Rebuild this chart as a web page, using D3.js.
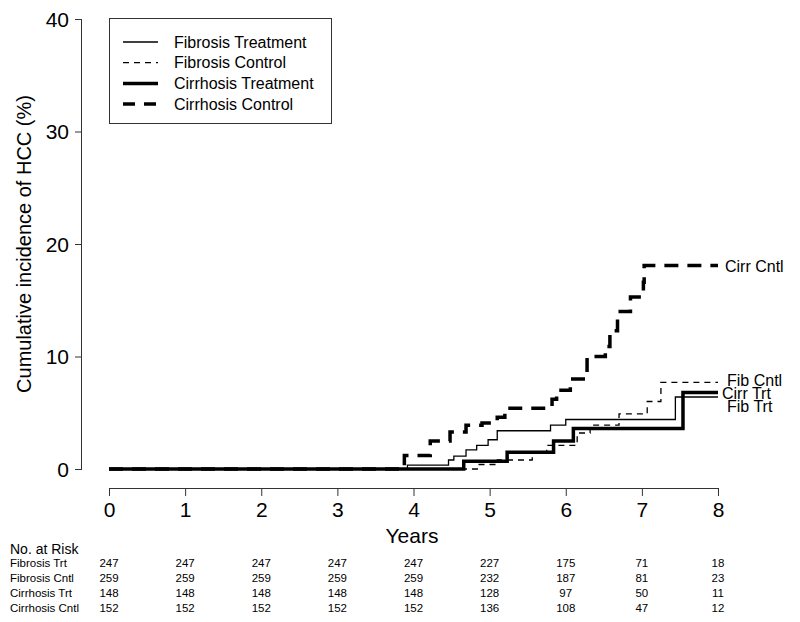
<!DOCTYPE html>
<html><head><meta charset="utf-8">
<script src="https://cdn.jsdelivr.net/npm/d3@7"></script>
<style>body{margin:0;background:#fff}svg{display:block;font-family:"Liberation Sans",Arial,sans-serif}</style>
</head><body><svg id="c" width="800" height="622"></svg>
<script>
const seriesNames = ["Fibrosis Treatment","Fibrosis Control","Cirrhosis Treatment","Cirrhosis Control"];
const endLabels = ["Fib Trt","Fib Cntl","Cirr Trt","Cirr Cntl"];
const fibTrtT = [0,3.92,4.46,4.53,4.69,4.83,4.98,5.1,5.8,6.0,7.44,8];
const fibTrtV = [0,0.35,0.8,1.15,1.7,2.1,2.6,3.4,3.9,4.4,6.4,6.4];
const fibCntlT = [0,4.85,5.1,5.56,5.75,6.15,6.32,6.7,7.07,7.25,8];
const fibCntlV = [0,0.4,0.8,1.5,2.1,3.2,3.9,4.9,6.0,7.7,7.7];
const cirrTrtT = [0,4.66,5.23,5.84,6.1,7.54,8];
const cirrTrtV = [0,0.7,1.5,2.5,3.6,6.8,6.8];
const cirrCntlT = [0,3.88,4.22,4.48,4.69,4.9,5.1,5.2,5.82,5.88,6.06,6.28,6.52,6.58,6.68,6.85,7.02,7.03,8];
const cirrCntlV = [0,1.2,2.5,3.3,3.9,4.1,4.6,5.4,6.2,7.0,8.0,10.0,10.9,12.3,14.0,15.3,16.6,18.1,18.1];
const xTicks = [0,1,2,3,4,5,6,7,8];
const yTicks = [0,10,20,30,40];
const riskRows = ["Fibrosis Trt","Fibrosis Cntl","Cirrhosis Trt","Cirrhosis Cntl"];
const riskFibTrt = [247,247,247,247,247,227,175,71,18];
const riskFibCntl = [259,259,259,259,259,232,187,81,23];
const riskCirrTrt = [148,148,148,148,148,128,97,50,11];
const riskCirrCntl = [152,152,152,152,152,136,108,47,12];

const svg = d3.select("#c");
const x = d3.scaleLinear().domain([0,8]).range([109,718]);
const y = d3.scaleLinear().domain([0,40]).range([469,19]);

// axes
const xa = svg.append("g").attr("transform","translate(0,488)")
  .call(d3.axisBottom(x).tickValues(xTicks).tickSize(8).tickPadding(6).tickFormat(d3.format("d")));
const ya = svg.append("g").attr("transform","translate(82,0)")
  .call(d3.axisLeft(y).tickValues(yTicks).tickSize(7).tickPadding(6).tickFormat(d3.format("d")));
[xa,ya].forEach(a=>{
  a.selectAll("path,line").attr("stroke","#333").attr("stroke-width",1);
  a.selectAll("text").attr("font-size",21).attr("fill","#000").attr("font-family","Liberation Sans, Arial, sans-serif");
});
ya.select(".domain").attr("d","M-0.5,19.5V469.5");
ya.selectAll("text").attr("dy","0.35em");

svg.append("text").attr("x",412).attr("y",543).attr("text-anchor","middle").attr("font-size",21).text("Years");
svg.append("text").attr("transform","translate(31,244) rotate(-90)").attr("text-anchor","middle").attr("font-size",20).text("Cumulative incidence of HCC (%)");

// curves
const data = [
  {t:fibTrtT,v:fibTrtV,w:1.3,dash:null},
  {t:fibCntlT,v:fibCntlV,w:1.3,dash:"6,5"},
  {t:cirrTrtT,v:cirrTrtV,w:3.5,dash:null},
  {t:cirrCntlT,v:cirrCntlV,w:3.5,dash:"14,9"}
];
const line = d3.line().x(d=>x(d[0])).y(d=>y(d[1])).curve(d3.curveStepAfter);
data.forEach(s=>{
  svg.append("path").datum(s.t.map((t,i)=>[t,s.v[i]]))
    .attr("d",line).attr("fill","none").attr("stroke","#000")
    .attr("stroke-width",s.w).attr("stroke-dasharray",s.dash);
});

// end labels
const labelY = [406,380,393,266];
endLabels.forEach((l,i)=>{
  svg.append("text").attr("x",[727,727,722,725][i]).attr("y",labelY[i]).attr("dy","0.35em")
    .attr("font-size",16).text(l);
});

// legend
svg.append("rect").attr("x",109.5).attr("y",18.5).attr("width",222).attr("height",105)
  .attr("fill","#fff").attr("stroke","#333").attr("stroke-width",1);
seriesNames.forEach((n,i)=>{
  const yy = 42 + i*20.7;
  svg.append("line").attr("x1",123).attr("x2",158).attr("y1",yy).attr("y2",yy)
    .attr("stroke","#000").attr("stroke-width",data[i].w).attr("stroke-dasharray",data[i].dash ? (i===1?"6,5":"12,9"):null);
  svg.append("text").attr("x",174).attr("y",yy).attr("dy","0.35em").attr("font-size",16).text(n);
});

// risk table
svg.append("text").attr("x",10).attr("y",554).attr("font-size",14).text("No. at Risk");
const riskData = [riskFibTrt,riskFibCntl,riskCirrTrt,riskCirrCntl];
riskRows.forEach((r,i)=>{
  const yy = 563 + i*15;
  svg.append("text").attr("x",10).attr("y",yy).attr("dy","0.35em").attr("font-size",11.5).text(r);
  riskData[i].forEach((v,j)=>{
    svg.append("text").attr("x",x(xTicks[j])).attr("y",yy).attr("dy","0.35em")
      .attr("text-anchor","middle").attr("font-size",11.5).text(v);
  });
});
</script></body></html>
